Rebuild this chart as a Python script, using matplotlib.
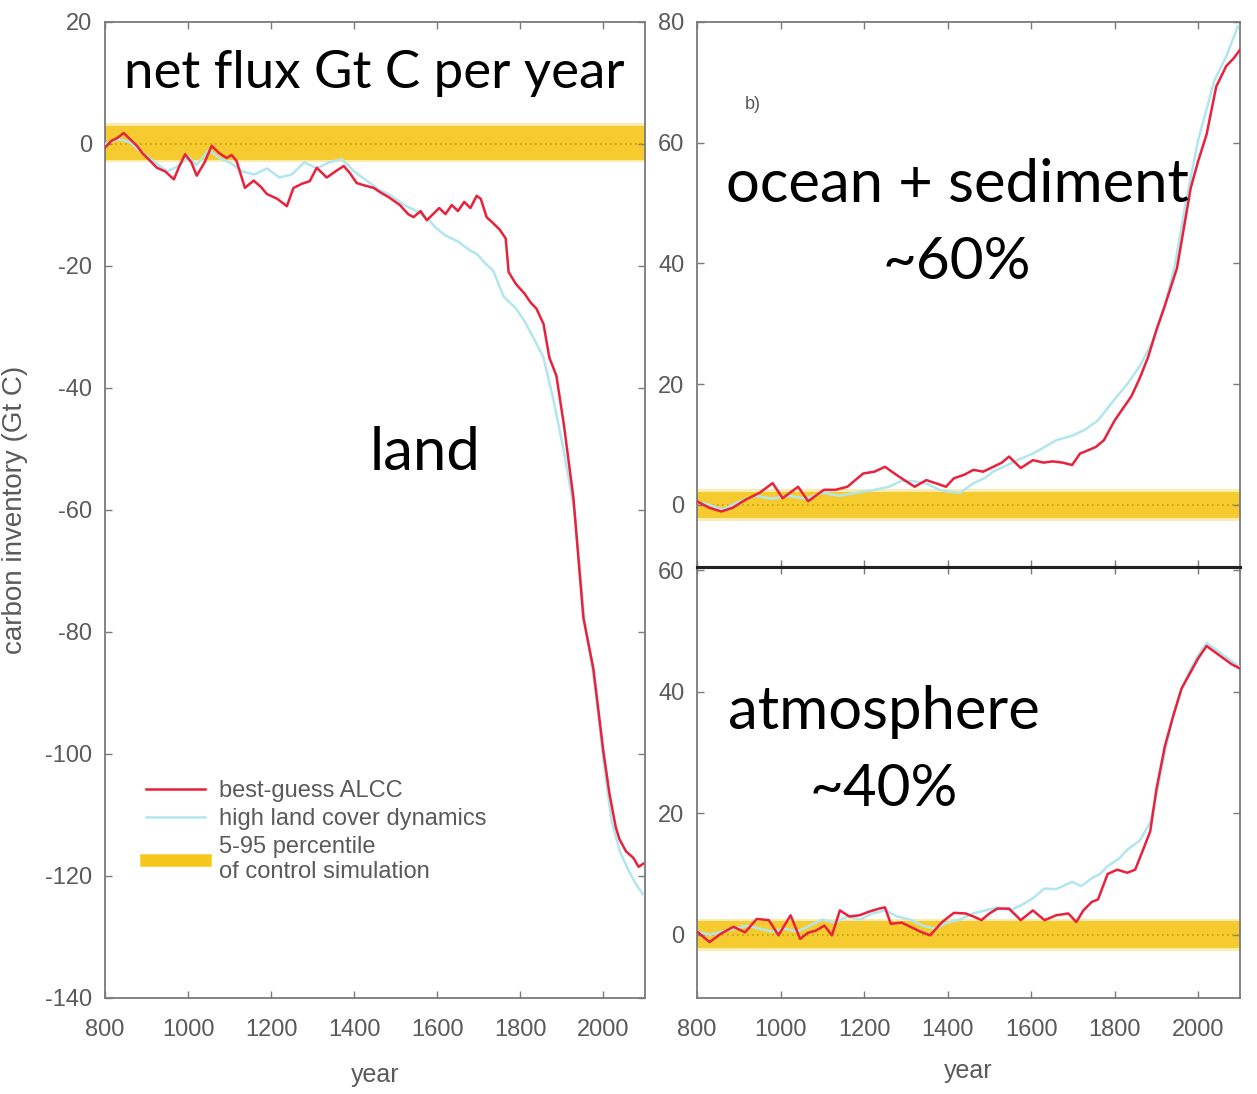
import matplotlib
matplotlib.use('Agg')
import matplotlib.pyplot as plt
from matplotlib.lines import Line2D


# land (left panel)
land_red_years = [800, 815, 830, 845, 860, 877, 890, 905, 925, 945,
	966, 980, 993, 1008, 1021, 1040, 1057, 1075, 1093, 1105,
	1117, 1137, 1158, 1175, 1190, 1215, 1238, 1254, 1275, 1293,
	1310, 1334, 1355, 1375, 1390, 1406, 1425, 1447, 1465, 1485,
	1510, 1530, 1543, 1560, 1575, 1590, 1605, 1620, 1635, 1650,
	1665, 1680, 1695, 1705, 1719, 1735, 1750, 1765, 1772, 1790,
	1810, 1825, 1839, 1856, 1870, 1887, 1905, 1928, 1952, 1976,
	2000, 2015, 2030, 2039, 2055, 2072, 2085, 2096]
land_red = [-0.6, 0.5, 1.0, 1.8, 0.8, -0.3, -1.5, -2.5, -3.9, -4.5,
	-5.8, -3.5, -1.7, -3.0, -5.2, -3.0, -0.3, -1.5, -2.3, -1.8,
	-2.8, -7.2, -6.0, -7.0, -8.2, -9.0, -10.2, -7.2, -6.5, -6.1,
	-3.9, -5.5, -4.5, -3.6, -4.8, -6.4, -6.8, -7.2, -8.0, -8.8,
	-10.0, -11.5, -12.0, -11.0, -12.5, -11.5, -10.5, -11.5, -10.0, -11.0,
	-9.5, -10.5, -8.5, -9.0, -12.0, -13.0, -14.0, -15.5, -21.0, -23.0,
	-24.5, -26.0, -27.0, -29.5, -35.0, -38.0, -46.0, -58.0, -77.7, -86.0,
	-99.5, -106.6, -112.0, -114.0, -116.0, -117.0, -118.5, -118.0]

land_cyan_years = [800, 830, 860, 890, 920, 950, 980, 1000, 1020, 1050,
	1080, 1100, 1130, 1160, 1190, 1220, 1250, 1280, 1310, 1340,
	1370, 1400, 1430, 1460, 1490, 1520, 1550, 1580, 1598, 1620,
	1650, 1680, 1695, 1715, 1735, 1760, 1790, 1810, 1832, 1856,
	1880, 1904, 1930, 1955, 1980, 2000, 2020, 2040, 2060, 2080, 2095]
land_cyan = [0, 0.8, 0.3, -1.5, -3.0, -4.5, -3.5, -2.0, -3.5, -1.0,
	-2.5, -3.0, -4.5, -5.0, -4.0, -5.5, -5.0, -3.0, -4.0, -3.0,
	-2.5, -4.5, -6.0, -7.5, -8.5, -10.0, -11.0, -12.5, -13.8, -15.0,
	-16.0, -17.5, -18.0, -19.5, -20.8, -25.0, -27.0, -29.0, -31.8, -35.0,
	-42.0, -50.0, -60.0, -78.0, -89.0, -101.0, -111.0, -116.0, -119.0, -121.5, -123.0]

# ocean + sediment (top right)
ocean_red_years = [802, 830, 858, 885, 915, 950, 981, 1005, 1042, 1066,
	1104, 1132, 1160, 1198, 1225, 1250, 1283, 1321, 1349, 1375,
	1396, 1415, 1440, 1462, 1485, 1509, 1530, 1547, 1575, 1604,
	1630, 1651, 1675, 1698, 1717, 1735, 1755, 1774, 1800, 1820,
	1840, 1860, 1880, 1900, 1920, 1949, 1982, 2000, 2020, 2043,
	2067, 2085, 2100]
ocean_red = [0.5, -0.5, -1.1, -0.5, 0.8, 2.0, 3.6, 1.1, 3.0, 0.6,
	2.5, 2.5, 3.0, 5.2, 5.5, 6.3, 4.7, 3.0, 4.1, 3.5,
	3.0, 4.4, 5.0, 5.8, 5.5, 6.3, 7.0, 8.0, 6.1, 7.4,
	7.0, 7.2, 7.0, 6.6, 8.5, 9.0, 9.6, 10.7, 14.0, 16.0,
	18.0, 21.0, 24.5, 29.0, 33.0, 39.2, 52.5, 57.0, 61.4, 69.3,
	72.7, 74.0, 75.4]

ocean_cyan_years = [800, 830, 860, 900, 940, 980, 1020, 1060, 1100, 1140,
	1180, 1226, 1260, 1290, 1321, 1350, 1380, 1400, 1430, 1460,
	1490, 1509, 1540, 1570, 1604, 1630, 1660, 1700, 1730, 1760,
	1800, 1830, 1860, 1890, 1920, 1944, 1970, 2000, 2039, 2067, 2095]
ocean_cyan = [0.5, 0, -0.8, 0.5, 1.5, 1.0, 1.5, 1.0, 2.0, 1.5,
	2.0, 2.5, 3.0, 4.0, 3.9, 3.5, 2.5, 2.2, 2.0, 3.5,
	4.5, 5.5, 6.5, 7.5, 8.5, 9.5, 10.7, 11.5, 12.5, 14.0,
	17.5, 20.0, 23.0, 27.0, 33.0, 39.7, 50.0, 60.5, 70.4, 74.3, 79.3]

# atmosphere (bottom right)
atm_red_years = [802, 830, 858, 887, 915, 943, 972, 995, 1024, 1047,
	1065, 1085, 1105, 1123, 1142, 1165, 1189, 1212, 1236, 1250,
	1264, 1290, 1311, 1335, 1358, 1387, 1415, 1443, 1462, 1481,
	1500, 1519, 1547, 1575, 1604, 1632, 1660, 1689, 1708, 1725,
	1745, 1760, 1783, 1806, 1830, 1849, 1868, 1885, 1900, 1920,
	1940, 1960, 1980, 2000, 2020, 2040, 2060, 2080, 2100]
atm_red = [0.4, -1.2, 0.2, 1.3, 0.4, 2.6, 2.4, -0.1, 3.2, -0.7,
	0.3, 0.7, 1.5, -0.1, 4.0, 3.0, 3.2, 3.8, 4.3, 4.5,
	1.8, 2.0, 1.3, 0.5, -0.1, 2.1, 3.6, 3.5, 3.0, 2.4,
	3.5, 4.3, 4.3, 2.4, 4.0, 2.4, 3.2, 3.5, 2.1, 4.0,
	5.4, 5.8, 10.0, 10.7, 10.2, 10.7, 14.0, 17.0, 24.0, 31.0,
	36.0, 40.5, 43.0, 45.5, 47.5, 46.5, 45.5, 44.5, 43.8]

atm_cyan_years = [800, 830, 860, 890, 920, 950, 980, 1010, 1040, 1070,
	1100, 1130, 1160, 1190, 1220, 1250, 1280, 1310, 1340, 1370,
	1400, 1430, 1460, 1490, 1520, 1550, 1580, 1604, 1632, 1660,
	1698, 1720, 1745, 1765, 1783, 1810, 1830, 1860, 1885, 1900,
	1920, 1940, 1960, 1980, 2000, 2020, 2040, 2060, 2080, 2100]
atm_cyan = [0.5, 0, 0.5, 1.0, 1.5, 1.0, 0.5, 1.0, 0.5, 1.5,
	2.5, 2.0, 3.0, 2.5, 3.5, 4.0, 3.0, 2.5, 1.5, 1.0,
	2.0, 2.5, 3.5, 4.0, 4.5, 4.0, 5.0, 6.0, 7.6, 7.5,
	8.7, 8.0, 9.3, 10.0, 11.3, 12.5, 14.0, 15.5, 18.5, 23.0,
	30.0, 36.0, 40.5, 43.5, 46.0, 48.0, 47.0, 46.0, 45.0, 44.0]

# 5-95 percentile of control run (lower, upper) per panel
land_band = [-2.6, 3.0]
ocean_band = [-2.2, 2.2]
atm_band = [-2.2, 2.2]

x_ticks = [800, 1000, 1200, 1400, 1600, 1800, 2000]

RED = '#e8213c'
CYAN = '#b2e6ee'
GOLD = '#f6c61a'
GREY = '#5a5a5a'
SMALL = ['Liberation Sans', 'DejaVu Sans']
BIG = ['Lato', 'DejaVu Sans']

plt.rcParams['axes.unicode_minus'] = False


def styleAxes(ax, ylim, yticks):
	ax.set_xlim(800, 2100)
	ax.set_ylim(*ylim)
	ax.set_xticks(x_ticks)
	ax.set_yticks(yticks)
	for s in ax.spines.values():
		s.set_color('#7a7a7a')
		s.set_linewidth(1.3)
	ax.tick_params(direction = 'in', length = 5, width = 1, colors = '#7a7a7a',
		top = True, right = True, labelcolor = GREY, labelsize = 17)
	ax.tick_params(axis = 'y', pad = 9)
	ax.tick_params(axis = 'x', pad = 15)
	for lab in ax.get_xticklabels() + ax.get_yticklabels():
		lab.set_family(SMALL)


def drawBand(ax, band):
	ax.axhspan(band[0] - 0.4, band[1] + 0.4, color = GOLD, alpha = 0.35, lw = 0, zorder = 1)
	ax.axhspan(band[0], band[1], color = GOLD, alpha = 0.85, lw = 0, zorder = 1)
	ax.axhline(0, color = '#c8a000', lw = 1.2, ls = (0, (1, 2)), zorder = 2)


fig = plt.figure(figsize = (12.57, 10.94), dpi = 100)
axL = fig.add_axes([0.0835, 0.0878, 0.4295, 0.8921])
axT = fig.add_axes([0.5545, 0.4817, 0.432, 0.4982])
axB = fig.add_axes([0.5545, 0.0878, 0.432, 0.3939])

styleAxes(axL, (-140, 20), list(range(-140, 21, 20)))
styleAxes(axT, (-10.3, 80), [0, 20, 40, 60, 80])
styleAxes(axB, (-10.4, 60.5), [0, 20, 40, 60])
axT.tick_params(labelbottom = False)
axT.spines['bottom'].set_color('#222222')
axT.spines['bottom'].set_linewidth(2.2)
axB.spines['top'].set_color('#222222')
axB.spines['top'].set_linewidth(2.2)

drawBand(axL, land_band)
drawBand(axT, ocean_band)
drawBand(axB, atm_band)

for ax, cy, cv, ry, rv in [
		(axL, land_cyan_years, land_cyan, land_red_years, land_red),
		(axT, ocean_cyan_years, ocean_cyan, ocean_red_years, ocean_red),
		(axB, atm_cyan_years, atm_cyan, atm_red_years, atm_red)]:
	ax.plot(cy, cv, color = CYAN, lw = 1.8, zorder = 3)
	ax.plot(ry, rv, color = RED, lw = 1.8, zorder = 4)

axL.set_ylabel('carbon inventory (Gt C)', color = GREY, fontsize = 20, family = SMALL)
axL.yaxis.set_label_coords(-0.143, 0.5)
axL.set_xlabel('year', color = GREY, fontsize = 18, family = SMALL, labelpad = 16)
axB.set_xlabel('year', color = GREY, fontsize = 18, family = SMALL, labelpad = 13)

handles = [Line2D([], [], color = RED, lw = 1.8),
	Line2D([], [], color = CYAN, lw = 1.8),
	Line2D([], [], color = GOLD, lw = 9)]
labels = ['best-guess ALCC', 'high land cover dynamics', '5-95 percentile\nof control simulation']
leg = axL.legend(handles, labels, loc = 'upper left', bbox_to_anchor = (0.037, 0.245),
	frameon = False, handlelength = 2.5, handletextpad = 0.6, labelspacing = 0.25,
	prop = {'family': SMALL, 'size': 17})
for t in leg.get_texts():
	t.set_color(GREY)

axT.text(0.088, 0.848, 'b)', transform = axT.transAxes, color = GREY, fontsize = 13,
	family = SMALL, va = 'center')

fig.text(0.298, 0.933, 'net flux Gt C per year', ha = 'center', va = 'center', fontsize = 38, family = BIG)
fig.text(0.338, 0.586, 'land', ha = 'center', va = 'center', fontsize = 43, family = BIG)
fig.text(0.762, 0.831, 'ocean + sediment', ha = 'center', va = 'center', fontsize = 43, family = BIG)
fig.text(0.761, 0.760, '~60%', ha = 'center', va = 'center', fontsize = 42, family = BIG)
fig.text(0.703, 0.349, 'atmosphere', ha = 'center', va = 'center', fontsize = 43, family = BIG)
fig.text(0.703, 0.278, '~40%', ha = 'center', va = 'center', fontsize = 42, family = BIG)

fig.savefig('out.png', dpi = 100)
